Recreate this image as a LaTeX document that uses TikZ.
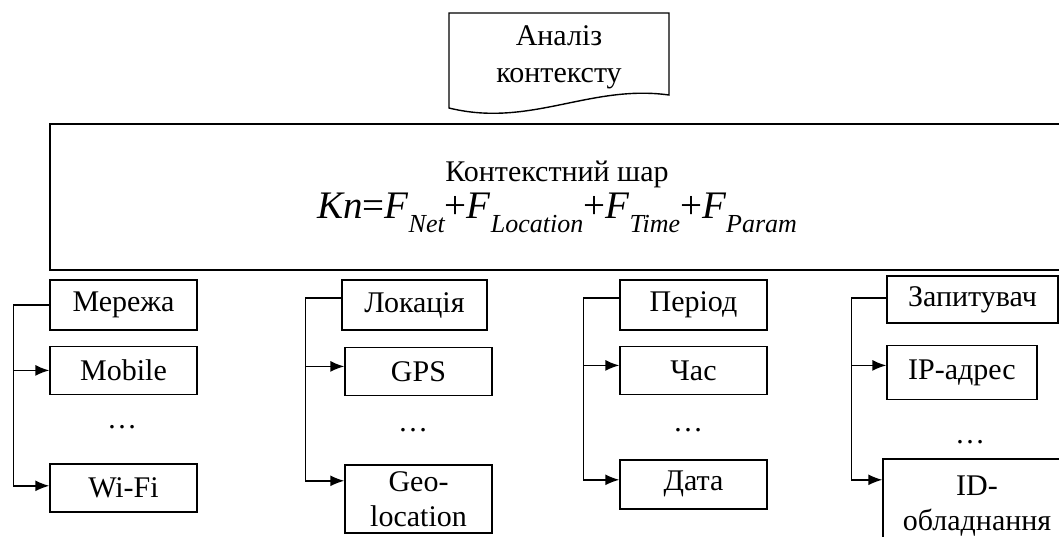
\documentclass[tikz,border=0pt]{standalone}
\usepackage{fontspec}
\setmainfont{Liberation Serif}
\usetikzlibrary{arrows.meta, positioning}

\newcommand{\fsub}[1]{\raisebox{-0.36em}{\fontsize{26}{26}\selectfont\itshape #1}}
\newcommand{\layerformula}{{\fontsize{39}{36}\selectfont\textit{Kn}=\textit{F}\fsub{Net}+\textit{F}\fsub{Location}+\textit{F}\fsub{Time}+\textit{F}\fsub{Param}}}

\begin{document}
\begin{tikzpicture}[
  x=1pt, y=-1pt,
  line width=1.4pt,
  font=\fontsize{30}{35}\selectfont,
  box/.style={draw, rectangle, minimum width=147pt, minimum height=48pt, inner sep=2pt, align=center},
  >={Latex[length=14pt, width=11pt]}
]
\useasboundingbox (0,0) rectangle (1059,536);
\clip (0,0) rectangle (1059,536);

\draw (449,108) -- (449,13) -- (669,13) -- (669,95) .. controls (590,84) and (530,128) .. (449,108) -- cycle;
\node[align=center, font=\fontsize{30}{37}\selectfont] (ctx) at (559,57) {Аналіз\\контексту};

\node[draw, minimum width=1014pt, minimum height=146pt, inner sep=0pt, align=center, font=\fontsize{30}{37}\selectfont] (layer) at (557,197) {Контекстний шар\\\layerformula};

\node[box, minimum height=50pt] (net) at (123.5,305) {Мережа};
\node[box, below=15pt of net] (mobile) {Mobile};
\node (dots1) at (122,427) {…};
\node[box, below=68pt of mobile] (wifi) {Wi-Fi};

\node[box, minimum width=145pt, minimum height=50pt] (loc) at (414.5,305) {Локація};
\node[box, below=16pt of loc, xshift=4pt] (gps) {GPS};
\node (dots2) at (413,430) {…};
\node[box, minimum height=68pt, below=68pt of gps] (geo) {Geo-\\location};

\node[box, minimum height=50pt] (per) at (693.5,305) {Період};
\node[box, below=15pt of per] (hour) {Час};
\node (dots3) at (688,430) {…};
\node[box, minimum height=49pt, below=64pt of hour] (date) {Дата};

\node[box, minimum width=171pt, minimum height=47pt] (req) at (972.5,299.5) {Запитувач};
\node[box, minimum width=150pt, minimum height=54pt, below=21pt of req, xshift=-10.5pt] (ip) {IP-адрес};
\node (dots4) at (970,442) {…};
\node[box, minimum width=188pt, minimum height=95pt, below=58pt of ip, xshift=15pt] (dev) {ID-\\обладнання};

\draw[->] (net.west) -- ++(-36pt,0) |- (mobile.west);
\draw[->] (net.west) -- ++(-36pt,0) |- ([yshift=2pt]wifi.west);

\draw[->] ([yshift=7pt]loc.west) -- ++(-36pt,0) |- ([yshift=5pt]gps.west);
\draw[->] ([yshift=7pt]loc.west) -- ++(-36pt,0) |- ([yshift=18pt]geo.west);

\draw[->] ([yshift=7pt]per.west) -- ++(-36pt,0) |- ([yshift=5pt]hour.west);
\draw[->] ([yshift=7pt]per.west) -- ++(-36pt,0) |- ([yshift=4.5pt]date.west);

\draw[->] ([yshift=1.5pt]req.west) -- ++(-35pt,0) |- ([yshift=7pt]ip.west);
\draw[->] ([yshift=1.5pt]req.west) -- ++(-35pt,0) |- ([yshift=26.5pt]dev.west);
\end{tikzpicture}
\end{document}
